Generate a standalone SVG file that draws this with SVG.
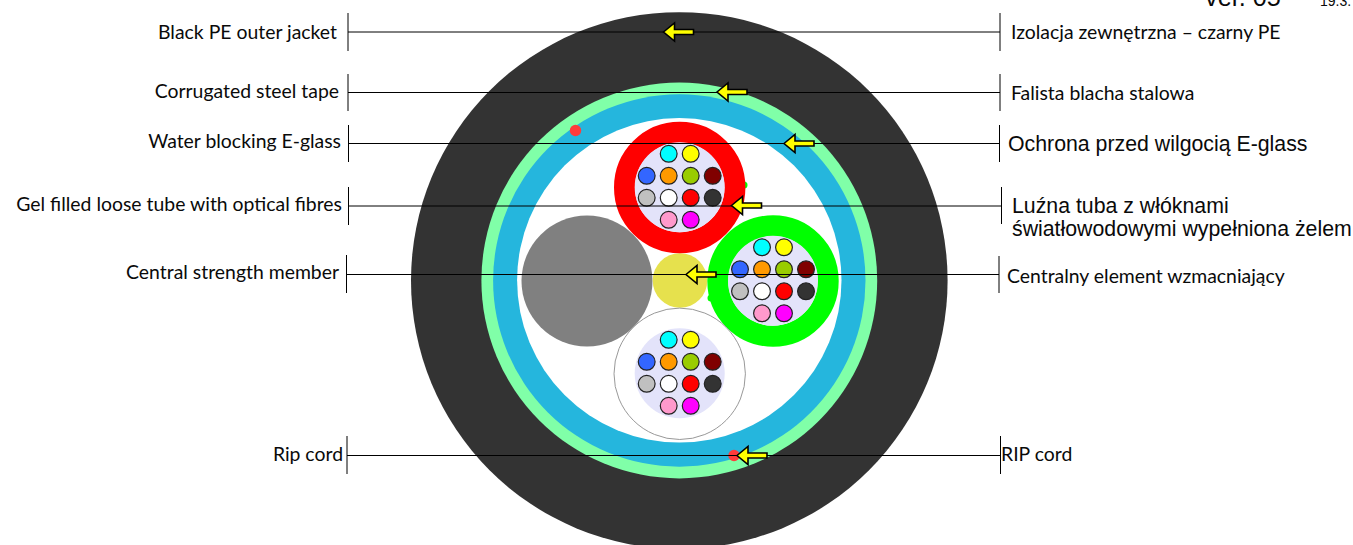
<svg xmlns="http://www.w3.org/2000/svg" width="1353" height="545" viewBox="0 0 1353 545">
<style>
text{fill:#0a0a0a;font-family:Lato,"Liberation Sans",sans-serif;font-size:19.4px}
.l{text-anchor:end}
.a{font-family:"Liberation Sans",Arial,sans-serif;font-size:21.3px}
.f{stroke:#222;stroke-width:1.2}
.conn line{stroke:#000;stroke-width:1}
.arrow{fill:#ffff00;stroke:#000;stroke-width:1.6;stroke-linejoin:miter}
</style>
<defs>
<g id="bundle">
<circle r="45" fill="#e3e3fa"/>
<circle class="f" cx="-11" cy="-33.5" r="8.4" fill="#00ffff"/>
<circle class="f" cx="11" cy="-33.5" r="8.4" fill="#ffff00"/>
<circle class="f" cx="-33" cy="-11.5" r="8.4" fill="#3366ff"/>
<circle class="f" cx="-11" cy="-11.5" r="8.4" fill="#ff9900"/>
<circle class="f" cx="11" cy="-11.5" r="8.4" fill="#99cc00"/>
<circle class="f" cx="33" cy="-11.5" r="8.4" fill="#800000"/>
<circle class="f" cx="-33" cy="10.5" r="8.4" fill="#c0c0c0"/>
<circle class="f" cx="-11" cy="10.5" r="8.4" fill="#ffffff"/>
<circle class="f" cx="11" cy="10.5" r="8.4" fill="#ff0000"/>
<circle class="f" cx="33" cy="10.5" r="8.4" fill="#333333"/>
<circle class="f" cx="-11" cy="32.5" r="8.4" fill="#ff99cc"/>
<circle class="f" cx="11" cy="32.5" r="8.4" fill="#ff00ff"/>
</g>
<path id="arr" class="arrow" d="M0,0 L11,-9 V-2.5 H30 V2.5 H11 V9 Z"/>
</defs>
<g id="jacket"><circle cx="679.3" cy="280.5" r="268.3" fill="#333333"/></g>
<g id="steel-tape"><circle cx="679.3" cy="280.5" r="197.9" fill="#80ffa8"/></g>
<g id="water-blocking"><circle cx="679.3" cy="280.5" r="186.2" fill="#25b6dd"/><circle cx="679.3" cy="280.3" r="162.2" fill="#ffffff"/></g>
<g id="rip-cords"><circle cx="575.5" cy="130.5" r="5.7" fill="#ff3b3b"/><circle cx="734" cy="455.5" r="5.7" fill="#ff3b3b"/></g>
<g id="filler"><circle cx="587" cy="281" r="65.5" fill="#808080"/></g>
<g id="central-member"><circle cx="680" cy="280.5" r="27.3" fill="#e6e14d"/></g>
<g id="tube-red"><circle cx="744" cy="185" r="3.5" fill="#00ff00"/><circle cx="679.7" cy="187.5" r="55.2" fill="none" stroke="#ff0000" stroke-width="21"/><use href="#bundle" x="679.7" y="187.3"/></g>
<g id="tube-green"><circle cx="711" cy="298" r="3.5" fill="#00ff00"/><circle cx="773" cy="281" r="55.2" fill="none" stroke="#00ff00" stroke-width="21"/><use href="#bundle" x="773" y="280.8"/></g>
<g id="tube-white"><circle cx="679.7" cy="373.8" r="65.7" fill="#ffffff" stroke="#999999" stroke-width="1"/><use href="#bundle" x="679.7" y="373.3"/></g>
<g id="connectors" class="conn">
<line x1="348" y1="32" x2="1000" y2="32"/><line x1="348" y1="13" x2="348" y2="51"/><line x1="1000" y1="13" x2="1000" y2="51"/>
<line x1="348" y1="92.5" x2="1000" y2="92.5"/><line x1="348" y1="74" x2="348" y2="111"/><line x1="1000" y1="74" x2="1000" y2="111"/>
<line x1="348.5" y1="143.5" x2="999.5" y2="143.5"/><line x1="348.5" y1="125" x2="348.5" y2="162"/><line x1="999.5" y1="125" x2="999.5" y2="162"/>
<line x1="348.5" y1="206" x2="1001.5" y2="206"/><line x1="348.5" y1="187" x2="348.5" y2="225"/><line x1="1001.5" y1="187" x2="1001.5" y2="224"/>
<line x1="346.5" y1="274.5" x2="999" y2="274.5"/><line x1="346.5" y1="255" x2="346.5" y2="293"/><line x1="999" y1="256" x2="999" y2="293"/>
<line x1="347" y1="455.5" x2="1000.5" y2="455.5"/><line x1="347" y1="436" x2="347" y2="474"/><line x1="1000.5" y1="436" x2="1000.5" y2="474"/>
</g>
<g id="arrows">
<use href="#arr" x="663.5" y="32"/><use href="#arr" x="717" y="92"/><use href="#arr" x="784" y="143.5"/>
<use href="#arr" x="731.5" y="205.5"/><use href="#arr" x="686" y="274.5"/><use href="#arr" x="737" y="455.5"/>
</g>
<g id="labels-left">
<text class="l" x="337" y="39">Black PE outer jacket</text>
<text class="l" x="339" y="98">Corrugated steel tape</text>
<text class="l" x="341" y="148">Water blocking E-glass</text>
<text class="l" x="342" y="211">Gel filled loose tube with optical fibres</text>
<text class="l" x="339" y="278.5">Central strength member</text>
<text class="l" x="343" y="461">Rip cord</text>
</g>
<g id="labels-right">
<text x="1011" y="39">Izolacja zewnętrzna – czarny PE</text>
<text x="1011" y="100">Falista blacha stalowa</text>
<text class="a" x="1008" y="151">Ochrona przed wilgocią E-glass</text>
<text class="a" x="1012" y="213">Luźna tuba z włóknami</text>
<text class="a" x="1012" y="236">światłowodowymi wypełniona żelem</text>
<text x="1007" y="282.5">Centralny element wzmacniający</text>
<text x="1001" y="461">RIP cord</text>
</g>
<g id="version">
<text class="a" x="1205" y="6" style="font-size:25.3px">ver. 05</text>
<text class="a" x="1320" y="6" style="font-size:14px">19.3.</text>
</g>
</svg>
